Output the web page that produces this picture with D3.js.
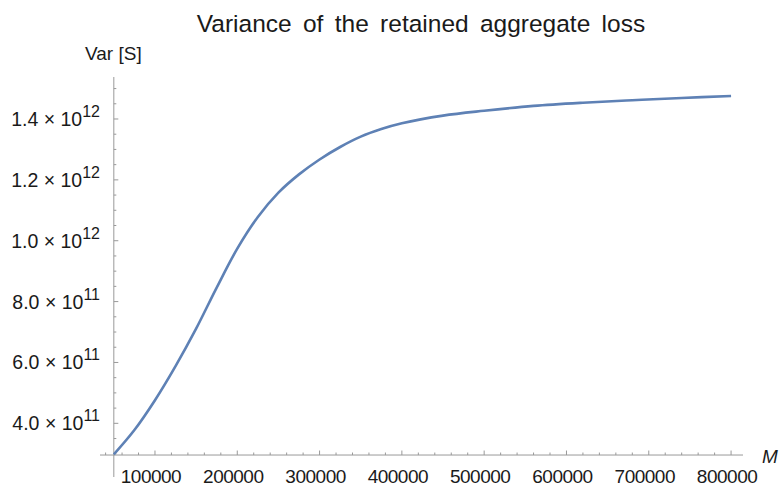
<!DOCTYPE html>
<meta charset="utf-8">
<script src="https://d3js.org/d3.v7.min.js"></script>
<style>
  body { margin: 0; background: #fff; }
  text { font-family: "Liberation Sans", Arial, sans-serif; fill: #1a1a1a; }
</style>
<div id="chart"></div>
<script>

    // retention limit M and variance of retained loss (in 1e12)
    var mValues = [50000, 75000, 100000, 125000, 150000, 175000, 200000, 225000, 250000,
                   275000, 300000, 325000, 350000, 375000, 400000, 450000, 500000,
                   560000, 620000, 680000, 740000, 800000];
    var varValues = [0.298, 0.378, 0.476, 0.588, 0.711, 0.846, 0.974, 1.078, 1.158,
                     1.218, 1.267, 1.308, 1.342, 1.367, 1.386, 1.411, 1.427,
                     1.443, 1.4535, 1.4615, 1.469, 1.4755];

    var xTicks = [100000, 200000, 300000, 400000, 500000, 600000, 700000, 800000];
    var yTicks = [0.4, 0.6, 0.8, 1.0, 1.2, 1.4];
    var yTickLabels = [["4.0", "11"], ["6.0", "11"], ["8.0", "11"], ["1.0", "12"], ["1.2", "12"], ["1.4", "12"]];

    var data = mValues.map(function(m, i) { return {m: m, v: varValues[i] * 1e12}; });

    var width = 780, height = 488;

    var svg = d3.select("#chart")
        .append("svg")
        .attr("width", width)
        .attr("height", height);

    var x = d3.scaleLinear()
        .domain([33200, 814500])
        .range([100, 743]);

    var y = d3.scaleLinear()
        .domain([0.2236e12, 1.538e12])
        .range([477, 77]);

    var originX = x(50000);
    var originY = y(0.2958e12);
    var axisColor = "#999";

    // x axis
    svg.append("line")
        .attr("x1", 100).attr("x2", 743)
        .attr("y1", originY).attr("y2", originY)
        .attr("stroke", axisColor).attr("stroke-width", 1);

    var xMinor = d3.range(40000, 800001, 20000).filter(function(d) { return d % 100000 != 0; });
    svg.selectAll(".xminor")
        .data(xMinor).enter().append("line")
        .attr("x1", function(d) { return x(d); }).attr("x2", function(d) { return x(d); })
        .attr("y1", originY).attr("y2", originY - 2.5)
        .attr("stroke", axisColor);

    svg.selectAll(".xmajor")
        .data(xTicks).enter().append("line")
        .attr("x1", function(d) { return x(d); }).attr("x2", function(d) { return x(d); })
        .attr("y1", originY).attr("y2", originY - 4.5)
        .attr("stroke", axisColor);

    svg.selectAll(".xlabel")
        .data(xTicks).enter().append("text")
        .attr("x", function(d) { return x(d) - 4; })
        .attr("y", 483)
        .attr("text-anchor", "middle")
        .style("font-size", "19px")
        .style("letter-spacing", "-0.5px")
        .text(function(d) { return d; });

    svg.append("text")
        .attr("x", 762).attr("y", 463)
        .style("font-size", "19px")
        .style("font-style", "italic")
        .text("M");

    // y axis
    svg.append("line")
        .attr("x1", originX).attr("x2", originX)
        .attr("y1", 77).attr("y2", 477)
        .attr("stroke", axisColor).attr("stroke-width", 1);

    var yMinor = d3.range(0.3, 1.51, 0.05).filter(function(d) {
        return Math.abs(Math.round(d * 10) / 10 - d) > 0.01 || Math.round(d * 10) % 2 == 1;
    });
    svg.selectAll(".yminor")
        .data(yMinor).enter().append("line")
        .attr("x1", originX).attr("x2", originX + 2.5)
        .attr("y1", function(d) { return y(d * 1e12); }).attr("y2", function(d) { return y(d * 1e12); })
        .attr("stroke", axisColor);

    svg.selectAll(".ymajor")
        .data(yTicks).enter().append("line")
        .attr("x1", originX).attr("x2", originX + 4.5)
        .attr("y1", function(d) { return y(d * 1e12); }).attr("y2", function(d) { return y(d * 1e12); })
        .attr("stroke", axisColor);

    var ylab = svg.selectAll(".ylabel")
        .data(yTicks).enter().append("text")
        .attr("x", 100)
        .attr("y", function(d) { return y(d * 1e12) + 7; })
        .attr("text-anchor", "end")
        .style("font-size", "19.5px");
    ylab.append("tspan")
        .text(function(d, i) { return yTickLabels[i][0] + " \u00d7 10"; });
    ylab.append("tspan")
        .attr("dy", -9)
        .style("font-size", "16px")
        .text(function(d, i) { return yTickLabels[i][1]; });

    svg.append("text")
        .attr("x", 85).attr("y", 60)
        .style("font-size", "19px")
        .text("Var [S]");

    // title
    svg.append("text")
        .attr("x", 421).attr("y", 32)
        .attr("text-anchor", "middle")
        .style("font-size", "24.5px")
        .style("word-spacing", "4.5px")
        .text("Variance of the retained aggregate loss");

    // curve
    var line = d3.line()
        .x(function(d) { return x(d.m); })
        .y(function(d) { return y(d.v); })
        .curve(d3.curveCatmullRom.alpha(0.5));

    svg.append("path")
        .datum(data)
        .attr("fill", "none")
        .attr("stroke", "#5e81b5")
        .attr("stroke-width", 2.6)
        .attr("d", line);

</script>
